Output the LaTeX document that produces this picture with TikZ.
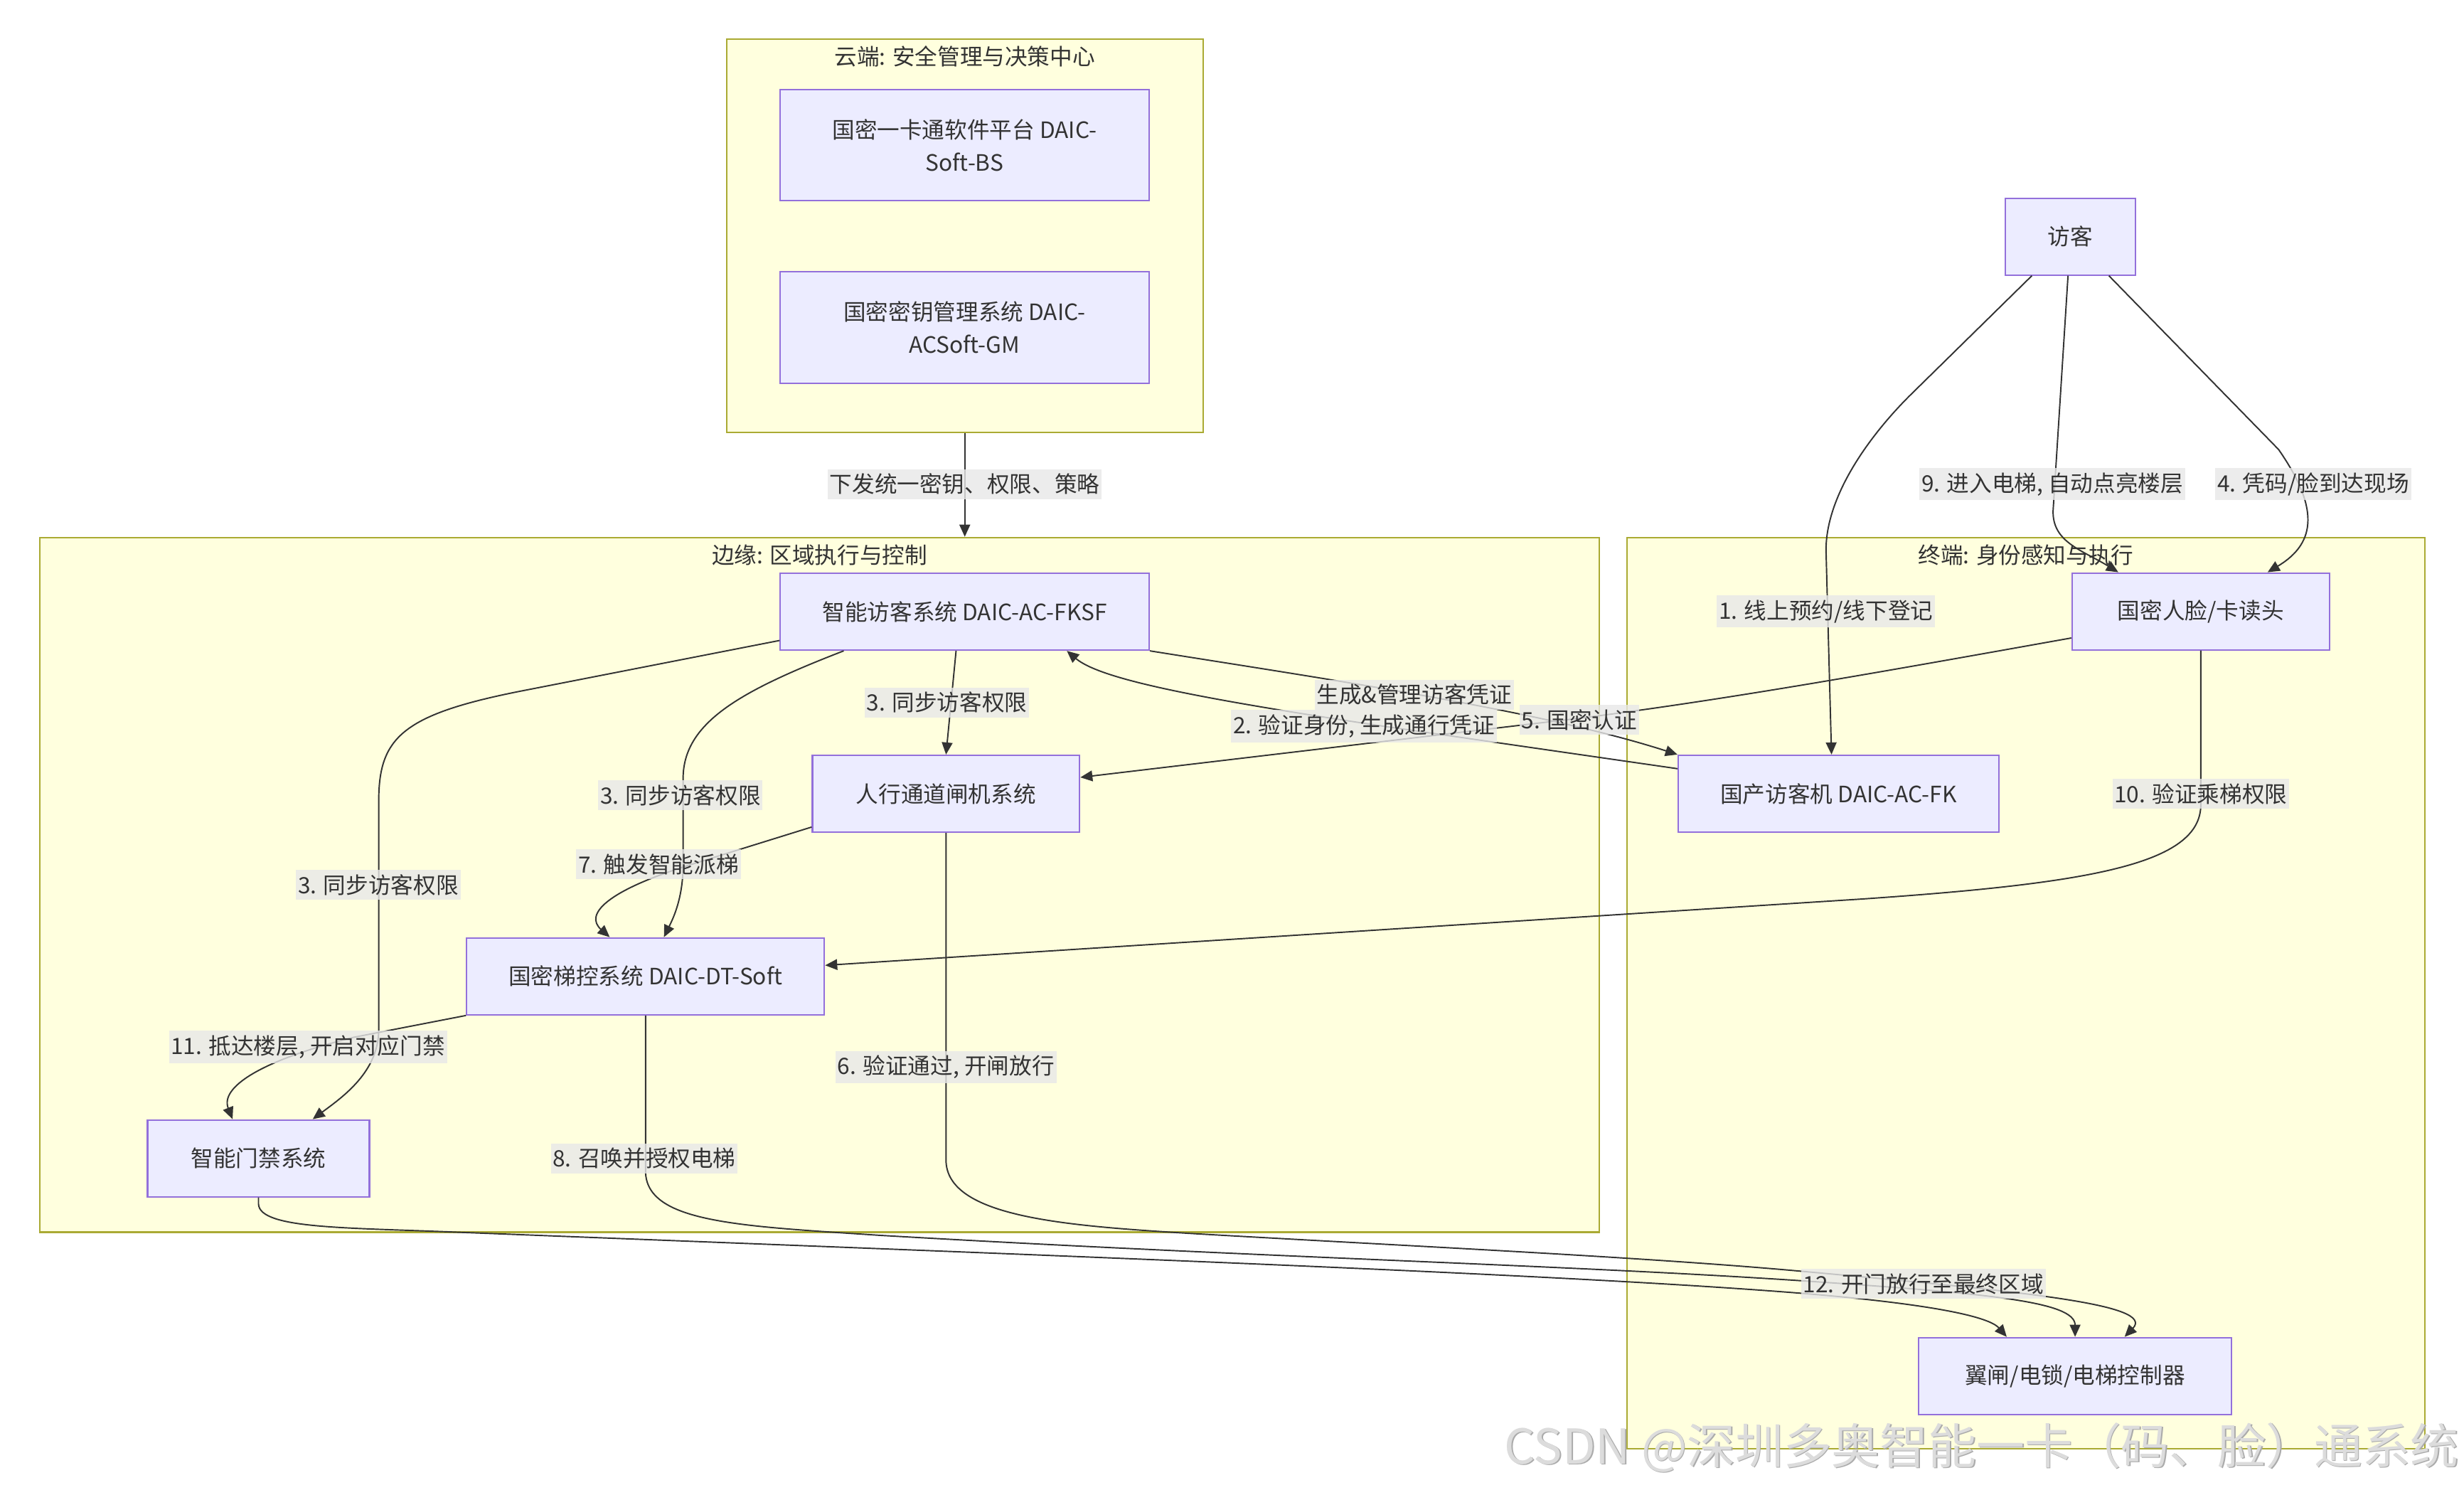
\documentclass[tikz,border=0pt]{standalone}
\usepackage{fontspec}
\setmainfont{Noto Sans CJK SC}
\usetikzlibrary{arrows.meta,positioning,calc}
\definecolor{zoneF}{HTML}{FFFFDE}
\definecolor{zoneB}{HTML}{AAAA33}
\definecolor{boxF}{HTML}{ECECFF}
\definecolor{boxB}{HTML}{9370DB}
\definecolor{ink}{HTML}{333333}
\definecolor{tagF}{HTML}{E8E8E8}
\definecolor{markF}{HTML}{DCDCDC}
\definecolor{markS}{HTML}{ABABAB}

\begin{document}
\begin{tikzpicture}[x=0.22098mm,y=-0.22098mm,>={Triangle[length=1.7mm,width=1.5mm]},
    font=\fontsize{9pt}{13.1pt}\selectfont,text=ink,
    zone/.style={draw=zoneB,fill=zoneF,line width=0.6pt,inner sep=0pt},
    ztitle/.style={inner sep=0pt},
    box/.style={draw=boxB,fill=boxF,line width=0.6pt,minimum height=10.8mm,
                align=center,inner sep=1pt},
    tag/.style={fill=tagF,fill opacity=0.8,text opacity=1,inner xsep=0.8pt,inner ysep=1.8pt},
    flow/.style={->,draw=ink,line width=0.55pt},
    markfont/.style={inner sep=0pt,font=\fontsize{19.3pt}{24pt}\selectfont}]
    \fill[white] (0,0) rectangle (1568,947.6);
    \useasboundingbox (0,0) rectangle (1568,947.6);

    \node[zone,minimum width=67.02mm,minimum height=55.25mm] (cloud) at (613.95,150.05) {};
    \node[zone,minimum width=219.28mm,minimum height=97.67mm] (edge) at (521.55,563) {};
    \node[zone,minimum width=112.15mm,minimum height=128.1mm] (term) at (1289.25,631.85) {};
    \node[ztitle,below=1mm of cloud.north] (cloudT) {云端: 安全管理与决策中心};
    \node[ztitle,below=1mm of edge.north] (edgeT) {边缘: 区域执行与控制};
    \node[ztitle,below=1mm of term.north] (termT) {终端: 身份感知与执行};

    \node[box,minimum width=51.9mm,minimum height=15.65mm] (bs) at (613.8,92.3) {国密一卡通软件平台 DAIC-\\Soft-BS};
    \node[box,minimum width=51.9mm,minimum height=15.65mm] (gm) at (613.8,208.3) {国密密钥管理系统 DAIC-\\ACSoft-GM};
    \node[box,minimum width=51.86mm] (fksf) at (613.9,389.2) {智能访客系统 DAIC-AC-FKSF};
    \node[box,minimum width=37.57mm] (gate) at (602,505) {人行通道闸机系统};
    \node[box,minimum width=50.3mm] (dt) at (410.8,621.2) {国密梯控系统 DAIC-DT-Soft};
    \node[box,minimum width=31.2mm] (door) at (164.5,737) {智能门禁系统};
    \node[box,minimum width=36.2mm] (reader) at (1400.5,389) {国密人脸/卡读头};
    \node[box,minimum width=45.1mm] (fk) at (1170,505) {国产访客机 DAIC-AC-FK};
    \node[box,minimum width=44mm] (ctrl) at (1320.5,875.5) {翼闸/电锁/电梯控制器};
    \node[box,minimum width=18.3mm] (visitor) at (1317.5,150.5) {访客};

    \draw[flow] (cloud.south) -- (cloud.south |- edge.north);
    \draw[flow] ($(visitor.south)+(-24.5,0)$) -- (1215,252) .. controls (1190,277) and (1162,315) .. (1162,350)
        -- ($(fk.north)+(-4.5,0)$);
    \draw[flow] ($(visitor.south)+(-1.5,0)$) -- (1306.5,325) .. controls (1306,345) and (1325,350)
        .. ($(reader.north)+(-52.5,0)$);
    \draw[flow] ($(visitor.south)+(24.5,0)$) -- (1450,286) .. controls (1475,322) and (1475,345)
        .. ($(reader.north)+(42.5,0)$);
    \draw[flow] ($(reader.south west)+(0,-8)$) .. controls (1200,427) and (1100,445) .. (1005,457)
        -- ($(gate.east)+(0,-10.4)$);
    \draw[flow] (fksf.south east) .. controls (850,433) and (980,452) .. (fk.north west);
    \draw[flow] ($(fk.north west)+(0,9)$) -- (880,462) .. controls (760,444) and (700,432)
        .. ($(fksf.south)+(65,0)$);
    \draw[flow] ($(fksf.south)+(-5.5,0)$) -- (gate.north);
    \draw[flow] ($(fksf.south)+(-77,0)$) .. controls (470,440) and (435,460) .. (434.7,495) -- (434.7,550)
        .. controls (434.7,572) and (428,585) .. ($(dt.north)+(11.7,0)$);
    \draw[flow] ($(fksf.south west)+(0,-6.6)$) -- (330,440) .. controls (255,455) and (241,470) .. (241,510)
        -- (241,655) .. controls (241,682) and (218,698) .. ($(door.north)+(34.5,0)$);
    \draw[flow] ($(gate.south west)+(0,-3.7)$) -- (440,550) .. controls (385,567) and (372,582)
        .. ($(dt.north)+(-22.8,0)$);
    \draw[flow] (dt.south west) -- (225,660) .. controls (165,675) and (140,692) .. ($(door.north)+(-16.5,0)$);
    \draw[flow] (reader.south) -- (1400.5,512) .. controls (1400.5,550) and (1330,562) .. (1185,572)
        -- ($(dt.east)+(0,-7)$);
    \draw[flow] (gate.south) -- (602,738) .. controls (602,775) and (680,780) .. (761,785)
        .. controls (900,793) and (1050,800) .. (1148,809)
        .. controls (1290,822) and (1372,830) .. ($(ctrl.north)+(31.5,0)$);
    \draw[flow] (dt.south) -- (410.8,745) .. controls (410.8,778) and (470,780) .. (560,786)
        .. controls (800,800) and (1000,805) .. (1148,815)
        .. controls (1265,823) and (1320.5,828) .. (ctrl.north);
    \draw[flow] (door.south) -- (164.5,766) .. controls (165,782) and (220,781) .. (291,784)
        .. controls (700,800) and (1000,811) .. (1148,823)
        .. controls (1232,830) and (1266,838) .. ($(ctrl.north)+(-43.5,0)$);

    \node[tag] (tSync) at (613.9,308) {下发统一密钥、权限、策略};
    \node[tag] (t1) at (1162,389) {1. 线上预约/线下登记};
    \node[tag] (t9) at (1306,308) {9. 进入电梯, 自动点亮楼层};
    \node[tag] (t4) at (1472,308) {4. 凭码/脸到达现场};
    \node[tag] (tGen) at (900,442) {生成\&管理访客凭证};
    \node[tag] (t2) at (868,462) {2. 验证身份, 生成通行凭证};
    \node[tag] (t5) at (1005,458) {5. 国密认证};
    \node[tag] (t3a) at (602.6,447) {3. 同步访客权限};
    \node[tag] (t3b) at (433,506) {3. 同步访客权限};
    \node[tag] (t3c) at (240.7,563) {3. 同步访客权限};
    \node[tag] (t7) at (419,550) {7. 触发智能派梯};
    \node[tag] (t6) at (602,679) {6. 验证通过, 开闸放行};
    \node[tag] (t8) at (410,737) {8. 召唤并授权电梯};
    \node[tag] (t11) at (196,666) {11. 抵达楼层, 开启对应门禁};
    \node[tag] (t10) at (1400.5,505) {10. 验证乘梯权限};
    \node[tag] (t12) at (1224,817) {12. 开门放行至最终区域};

    \node[markfont,text=markS,anchor=east] (markS) at (1565.8,921.7) {CSDN @深圳多奥智能一卡（码、脸）通系统};
    \node[markfont,text=markF,anchor=east] (mark) at (1565,920.9) {CSDN @深圳多奥智能一卡（码、脸）通系统};
\end{tikzpicture}
\end{document}
